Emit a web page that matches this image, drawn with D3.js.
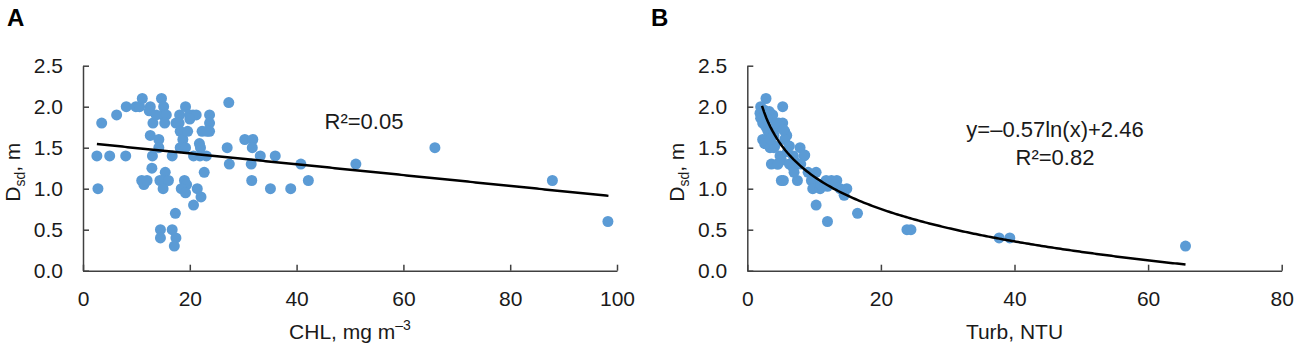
<!DOCTYPE html>
<html>
<head>
<meta charset="utf-8">
<script src="https://cdn.jsdelivr.net/npm/d3@7"></script>
<style>
  body { margin: 0; background: #fff; }
  svg { display: block; font-family: "Liberation Sans", Arial, sans-serif; }
</style>
</head>
<body>
<svg id="chart" width="1299" height="349"></svg>
<script>
// panel A: CHL (mg m-3) vs Dsd (m)
const chlPoints = [
  [2.6,1.4],[2.8,1.0],[3.5,1.8],[5.0,1.4],[6.3,1.9],[8.0,1.4],[8.1,2.0],[9.9,2.0],[10.6,2.0],[11.1,2.1],
  [11.0,1.1],[11.4,1.05],[12.0,1.1],[12.6,2.0],[12.4,1.95],[13.1,1.8],[12.6,1.65],[12.9,1.25],[13.0,1.4],[14.2,1.6],
  [14.2,1.5],[14.7,2.1],[15.1,2.0],[14.9,1.9],[13.7,1.9],[15.6,1.9],[15.3,1.8],[15.4,1.2],[14.4,1.1],[15.0,1.1],
  [16.0,1.1],[15.0,1.0],[14.5,0.5],[14.5,0.4],[16.7,0.5],[17.4,0.4],[17.1,0.3],[17.3,0.7],[16.7,1.4],[17.4,1.8],
  [18.1,1.9],[18.0,1.8],[18.2,1.7],[18.7,1.6],[18.8,1.5],[19.2,2.0],[19.6,1.7],[18.2,1.5],[19.2,1.5],[19.0,1.1],
  [19.4,1.05],[18.4,1.0],[19.2,0.95],[20.0,1.9],[20.6,1.9],[21.2,1.9],[20.0,1.85],[20.7,1.4],[21.9,1.4],[23.1,1.4],
  [21.4,1.0],[22.1,0.9],[20.7,0.8],[21.8,1.55],[22.0,1.5],[22.3,1.7],[22.7,1.2],[23.7,1.9],[23.7,1.8],[23.7,1.7],
  [23.2,1.7],[27.3,2.05],[27.0,1.5],[27.4,1.3],[30.3,1.6],[31.8,1.6],[31.7,1.5],[31.5,1.3],[31.6,1.1],[33.2,1.4],
  [35.1,1.0],[36.0,1.4],[38.9,1.0],[40.8,1.3],[42.2,1.1],[51.1,1.3],[65.9,1.5],[87.9,1.1],[98.3,0.6]
];
// panel B: Turb (NTU) vs Dsd (m)
const turbPoints = [
  [2.8,2.1],[2.0,2.0],[1.9,1.92],[2.0,1.86],[2.5,1.96],[3.3,1.94],[3.8,1.9],[2.3,1.8],[2.8,1.75],[5.3,2.0],
  [4.7,1.8],[5.3,1.8],[5.1,1.75],[3.1,1.7],[3.9,1.7],[5.6,1.7],[5.9,1.65],[2.3,1.6],[2.6,1.55],[3.4,1.5],
  [4.0,1.5],[5.6,1.6],[6.3,1.52],[7.9,1.5],[4.9,1.4],[5.1,1.35],[6.9,1.4],[7.1,1.33],[8.5,1.4],[3.6,1.3],
  [4.5,1.3],[6.3,1.3],[6.9,1.25],[5.1,1.1],[5.4,1.1],[7.5,1.1],[9.1,1.2],[10.3,1.2],[9.6,1.1],[10.1,1.07],
  [9.8,1.0],[10.9,1.0],[11.8,1.1],[12.6,1.1],[13.4,1.1],[12.0,1.03],[13.1,1.05],[13.9,1.0],[14.5,0.92],[14.9,1.0],
  [10.3,0.8],[12.0,0.6],[16.5,0.7],[23.9,0.5],[24.5,0.5],[37.7,0.4],[39.3,0.4],[65.6,0.3],
  [4.3,1.8],[5.4,1.72],[3.0,1.85],[4.1,1.52],[8.6,1.41],[4.6,1.3],[3.5,1.6],[6.0,1.45],[7.0,1.2],[11.0,1.05],
  [8.0,1.3],[4.0,1.65]
];

const yTicks = [0, 0.5, 1.0, 1.5, 2.0, 2.5];
const chlTicks = [0, 20, 40, 60, 80, 100];
const turbTicks = [0, 20, 40, 60, 80];

// fitted lines
const linFit = { slope: -0.0066, intercept: 1.562, from: 2.6, to: 98.4 };
const logFit = { a: -0.57, b: 2.46, from: 2.2, to: 65.6 };

const svg = d3.select("#chart");
svg.append("rect").attr("width", 1299).attr("height", 349).attr("fill", "#fff");

const plotTop = 65.7, plotBottom = 270.7;
const y = d3.scaleLinear().domain([0, 2.5]).range([plotBottom, plotTop]);
const dotColor = "#5B9BD5";
const axisColor = "#404040";

function panel(opts) {
  const x = d3.scaleLinear().domain(opts.domain).range([opts.left, opts.right]);
  const g = svg.append("g");

  const xAxis = g.append("g")
    .attr("transform", `translate(0,${plotBottom})`)
    .call(d3.axisBottom(x).tickValues(opts.ticks).tickFormat(d3.format("d"))
      .tickSizeInner(-6).tickSizeOuter(0).tickPadding(20));
  const yAxis = g.append("g")
    .attr("transform", `translate(${opts.left},0)`)
    .call(d3.axisLeft(y).tickValues(yTicks).tickFormat(d3.format(".1f"))
      .tickSizeInner(-6).tickSizeOuter(0).tickPadding(20));
  [xAxis, yAxis].forEach(a => {
    a.selectAll("path, line").attr("stroke", axisColor).attr("stroke-width", 1.5);
    a.selectAll("text").attr("fill", "#1a1a1a").attr("font-size", 21)
      .attr("font-family", "Liberation Sans, Arial, sans-serif");
  });

  g.append("g").selectAll("circle")
    .data(opts.points)
    .join("circle")
    .attr("cx", d => x(d[0]))
    .attr("cy", d => y(d[1]))
    .attr("r", 5.5)
    .attr("fill", dotColor);

  const xs = d3.range(0, 201).map(i => opts.fit.from + (opts.fit.to - opts.fit.from) * i / 200);
  g.append("path")
    .datum(xs)
    .attr("fill", "none")
    .attr("stroke", "#000")
    .attr("stroke-width", 2.5)
    .attr("d", d3.line().x(d => x(d)).y(d => y(opts.fit.fn(d))));

  // y title
  const yt = g.append("text")
    .attr("transform", `translate(${opts.left - 63},${(plotTop + plotBottom) / 2 + 4}) rotate(-90)`)
    .attr("text-anchor", "middle")
    .attr("font-size", 21)
    .attr("fill", "#1a1a1a");
  yt.append("tspan").text("D");
  yt.append("tspan").attr("font-size", 14).attr("dy", 5).text("sd");
  yt.append("tspan").attr("dy", -5).text(", m");

  // x title
  const xt = g.append("text")
    .attr("x", (opts.left + opts.right) / 2)
    .attr("y", 339)
    .attr("text-anchor", "middle")
    .attr("font-size", 21)
    .attr("fill", "#1a1a1a");
  xt.append("tspan").text(opts.xTitle);
  if (opts.xSup) xt.append("tspan").attr("font-size", 14).attr("dy", -9).text(opts.xSup);

  // panel letter
  g.append("text")
    .attr("x", opts.letterX).attr("y", 26)
    .attr("font-size", 24).attr("font-weight", "bold").attr("fill", "#000")
    .text(opts.letter);

  // annotation
  opts.notes.forEach((t, i) => {
    g.append("text")
      .attr("x", opts.noteX).attr("y", opts.noteY + i * 28)
      .attr("text-anchor", "middle")
      .attr("font-size", 22).attr("fill", "#1a1a1a")
      .text(t);
  });
}

panel({
  points: chlPoints, domain: [0, 100], ticks: chlTicks, left: 83, right: 617,
  fit: { from: linFit.from, to: linFit.to, fn: v => linFit.intercept + linFit.slope * v },
  xTitle: "CHL, mg m", xSup: "\u20133", letter: "A", letterX: 7,
  notes: ["R\u00b2=0.05"], noteX: 364, noteY: 129
});

panel({
  points: turbPoints, domain: [0, 80], ticks: turbTicks, left: 747.3, right: 1281.7,
  fit: { from: logFit.from, to: logFit.to, fn: v => logFit.a * Math.log(v) + logFit.b },
  xTitle: "Turb, NTU", xSup: null, letter: "B", letterX: 651,
  notes: ["y=\u20130.57ln(x)+2.46", "R\u00b2=0.82"], noteX: 1055, noteY: 137
});
</script>
</body>
</html>
